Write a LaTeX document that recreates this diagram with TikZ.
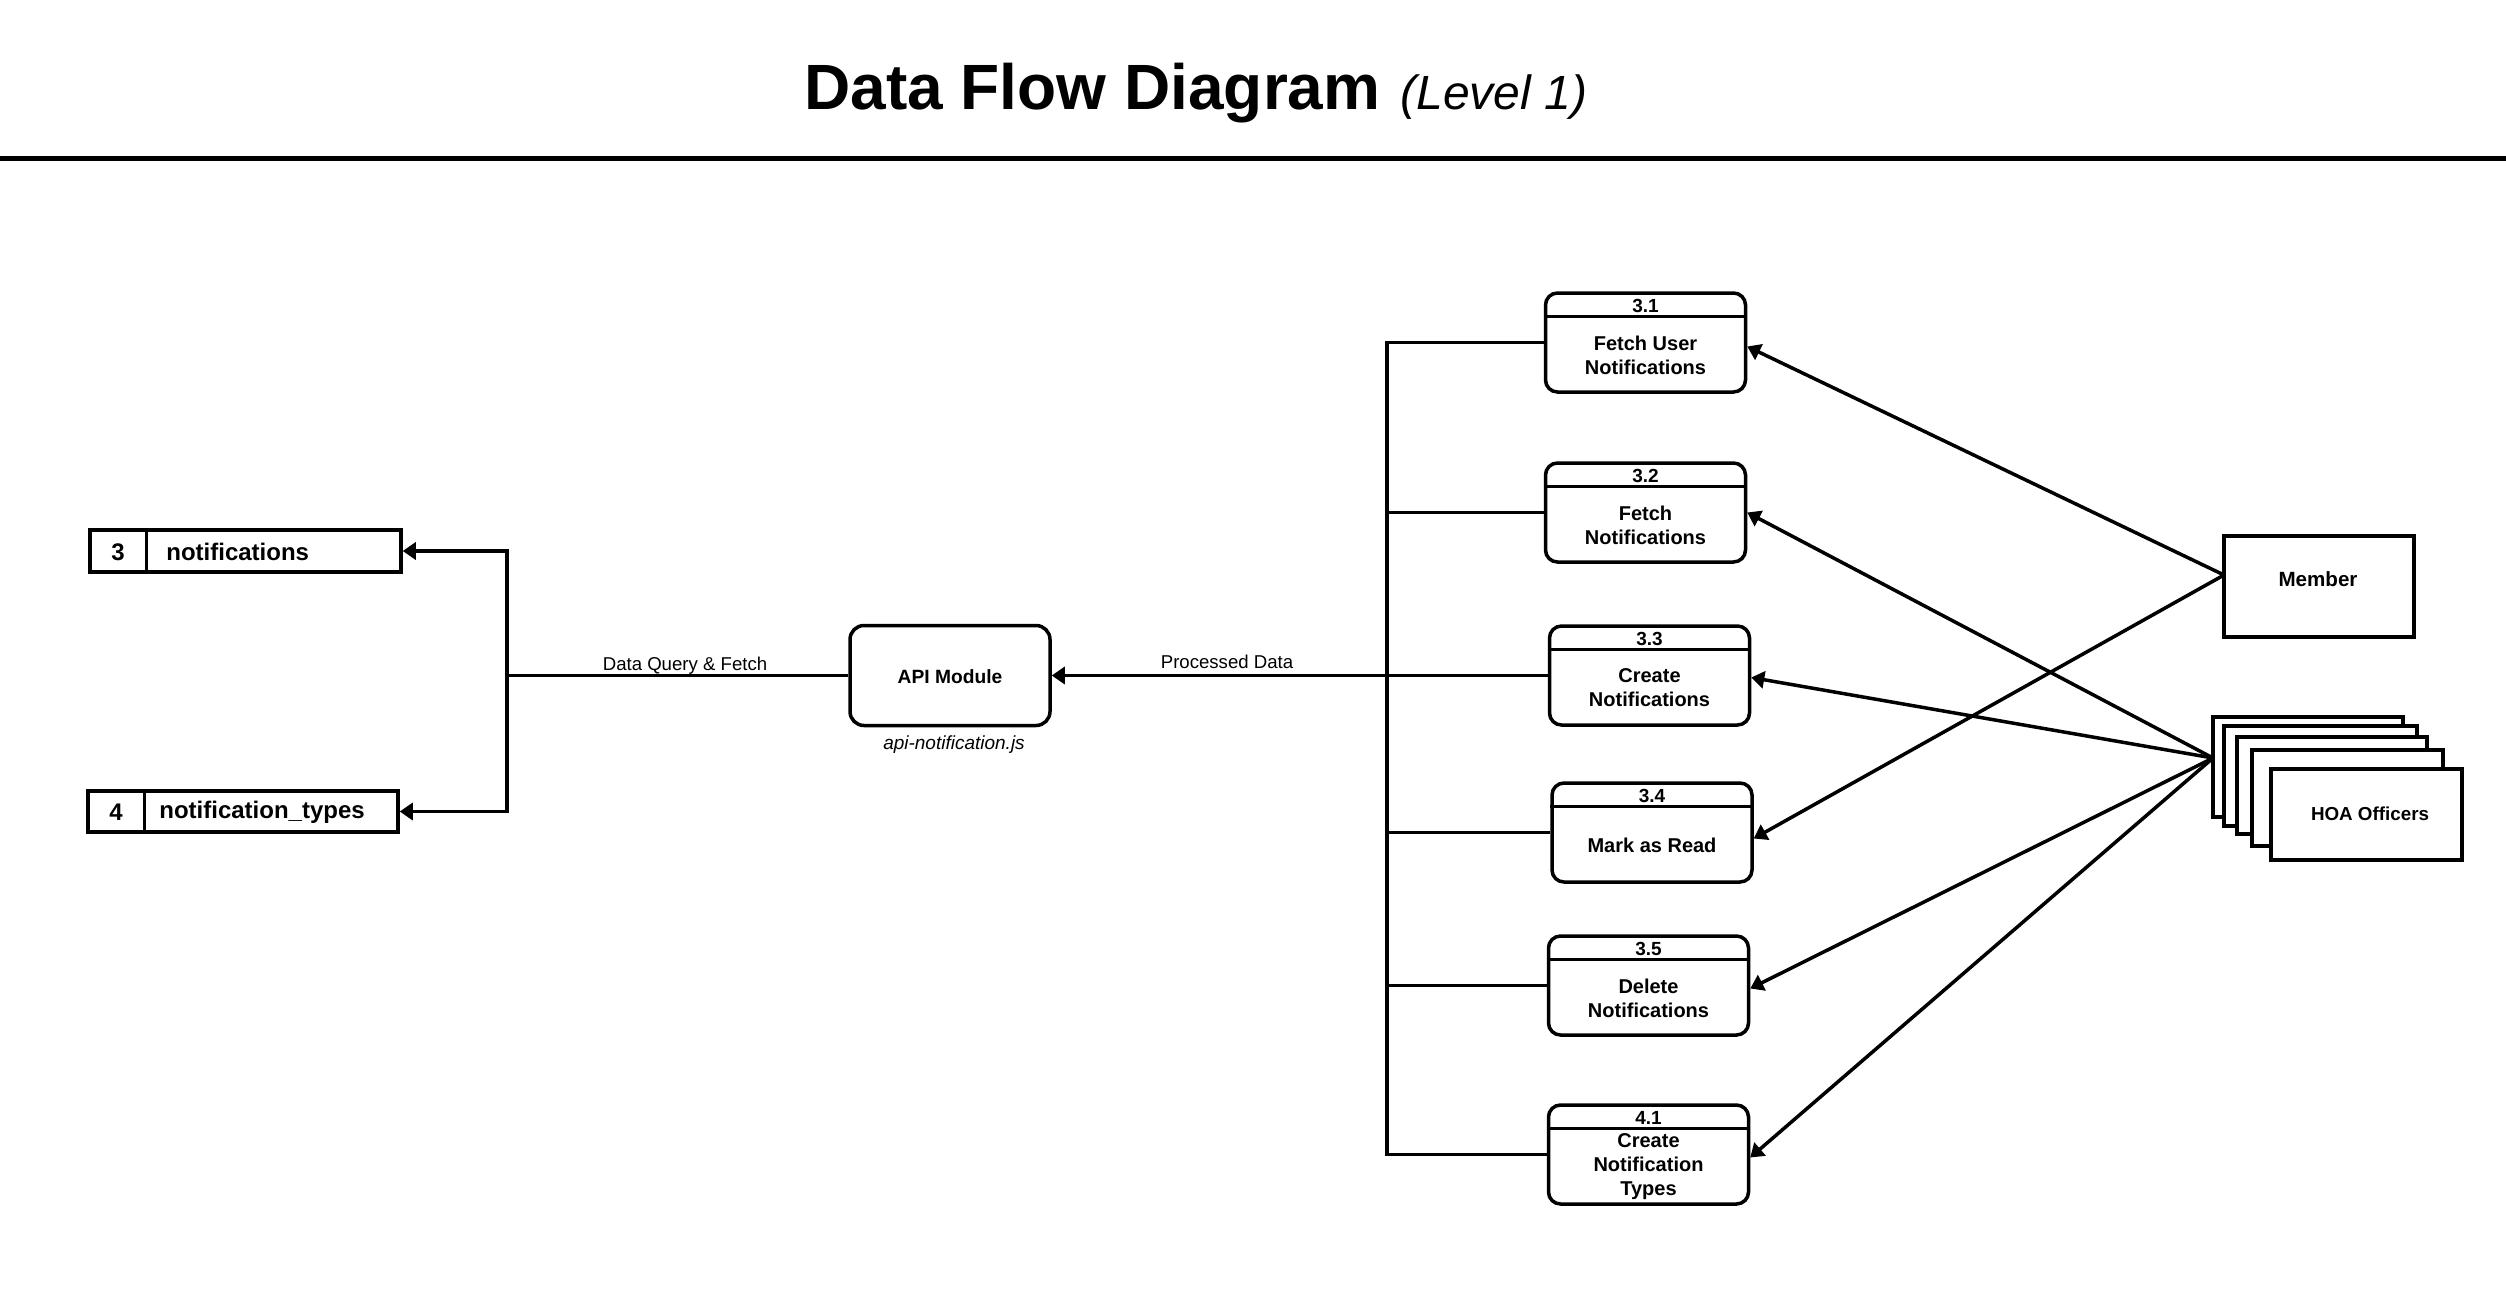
\documentclass[tikz,border=0pt]{standalone}
\usepackage{fontspec}
\setmainfont{Liberation Sans}
\usetikzlibrary{arrows.meta,calc}
\begin{document}
\begin{tikzpicture}[x=0.5pt,y=-0.5pt,
  bd/.style={line width=1.75pt},
  ln/.style={line width=1.75pt},
  arr/.style={line width=1.75pt,-{Triangle[length=6.5pt,width=8.5pt]}},
  proc/.style={draw,line width=1.75pt,rounded corners=6pt,minimum width=100pt,minimum height=49.5pt,inner sep=0pt},
  idt/.style={font=\fontsize{9.5pt}{11pt}\selectfont\bfseries,inner sep=0pt},
  bodyt/.style={font=\fontsize{10pt}{12pt}\selectfont\bfseries,align=center,inner sep=0pt},
  store/.style={draw,line width=1.75pt,inner sep=0pt},
  storet/.style={font=\fontsize{12pt}{14pt}\selectfont\bfseries,inner sep=0pt},
  ent/.style={draw,line width=1.75pt,fill=white,inner sep=0pt},
  entt/.style={font=\fontsize{9.8pt}{12pt}\selectfont\bfseries,inner sep=0pt},
  lbl/.style={font=\fontsize{9.3pt}{11pt}\selectfont,inner sep=0pt}
]
\useasboundingbox (0,0) rectangle (2506,1296);
\fill[white] (0,0) rectangle (2506,1296);

% title
\node[anchor=base west,inner sep=0pt] (title) at (804,109)
  {\fontsize{32pt}{36pt}\selectfont\bfseries Data Flow Diagram\hspace{10pt}{\fontsize{24pt}{28pt}\selectfont\mdseries\itshape (Level 1)}};
\coordinate (rl) at (0,158);
\coordinate (rr) at (2506,158);
\draw[line width=2.5pt] (rl) -- (rr);

% process boxes
\newcommand{\procbox}[5]{%
  \node[proc] (#1) at (#2,#3+49.5) {};
  \draw[bd] ([yshift=-12.5pt]#1.north west) -- ([yshift=-12.5pt]#1.north east);
  \node[idt] (#1-id) at (#2,#3+12.5) {#4};
  \node[bodyt] (#1-t) at (#2,#3+62) {#5};
}
\procbox{p31}{1645.5}{293}{3.1}{Fetch User\\Notifications}
\procbox{p32}{1645.5}{463}{3.2}{Fetch\\Notifications}
\procbox{p33}{1649.5}{626}{3.3}{Create\\Notifications}
\procbox{p34}{1652}{783}{3.4}{Mark as Read}
\procbox{p35}{1648.5}{936}{3.5}{Delete\\Notifications}
\procbox{p41}{1648.5}{1105}{4.1}{Create\\Notification\\Types}

% API module
\node[proc,minimum height=50pt,rounded corners=7pt] (api) at (950,675.5) {};
\node[bodyt,font=\fontsize{9.6pt}{12pt}\selectfont\bfseries] (apit) at (950,677) {API Module};
\node[lbl,font=\fontsize{9.5pt}{11pt}\selectfont\itshape] (apif) at (954,745) {api-notification.js};

% data stores
\node[store,minimum width=155.5pt,minimum height=21pt] (ds3) at (245.5,551) {};
\draw[bd] ([xshift=29pt]ds3.north west) -- ([xshift=29pt]ds3.south west);
\node[storet] (ds3n) at (118,552) {3};
\node[storet,anchor=west] (ds3t) at (166,552) {notifications};
\node[store,minimum width=155pt,minimum height=20.5pt] (ds4) at (243,811.5) {};
\draw[bd] ([xshift=29pt]ds4.north west) -- ([xshift=29pt]ds4.south west);
\node[storet] (ds4n) at (116,812) {4};
\node[storet,anchor=west] (ds4t) at (159,812) {notification\_types};

% external entities
\node[ent,minimum width=95pt,minimum height=50.5pt] (member) at (2319,586.5) {};
\node[entt,font=\fontsize{10.3pt}{12pt}\selectfont\bfseries] (membert) at (2318,579) {Member};
\node[ent,minimum width=95pt,minimum height=50pt] (h1) at (2308,767) {};
\node[ent,minimum width=96.5pt,minimum height=50pt] (h2) at (2320.5,776) {};
\node[ent,minimum width=95pt,minimum height=48.5pt] (h3) at (2332,785.5) {};
\node[ent,minimum width=95.5pt,minimum height=48pt] (h4) at (2347.5,798) {};
\node[ent,minimum width=95.5pt,minimum height=45.5pt] (h5) at (2366.5,814.5) {};
\node[entt,font=\fontsize{9.4pt}{12pt}\selectfont\bfseries] (hoat) at (2370,814) {HOA Officers};

% left side flows
\coordinate (jl) at (507,675.5);
\draw[ln] (api.west) -- (jl);
\draw[arr] (jl) |- (ds3.east);
\draw[arr] (jl) |- (ds4.east);
\node[lbl] (dq) at (685,666) {Data Query \& Fetch};

% right bus
\coordinate (busx) at (1387,0);
\coordinate (jr) at (busx |- p33.west);
\draw[ln] (p31.west) -| (jr);
\draw[ln] (p32.west) -| (jr);
\draw[ln] (p33.west) -- (jr);
\draw[ln] (p34.west) -| (jr);
\draw[ln] (p35.west) -| (jr);
\draw[ln] (p41.west) -| (jr);
\draw[arr] (jr) -- (api.east);
\node[lbl] (pd) at (1227,662) {Processed Data};

% external flows
\coordinate (mconv) at (2224,575);
\coordinate (hconv) at (2213,758);
\draw[arr] (mconv) -- ([yshift=-2pt]p31.east);
\draw[arr] (mconv) -- ([yshift=-3pt]p34.east);
\draw[arr] (hconv) -- (p32.east);
\draw[arr] (hconv) -- ([yshift=-1pt]p33.east);
\draw[arr] (hconv) -- ([yshift=-1.5pt]p35.east);
\draw[arr] (hconv) -- ([yshift=-1.5pt]p41.east);
\end{tikzpicture}
\end{document}
